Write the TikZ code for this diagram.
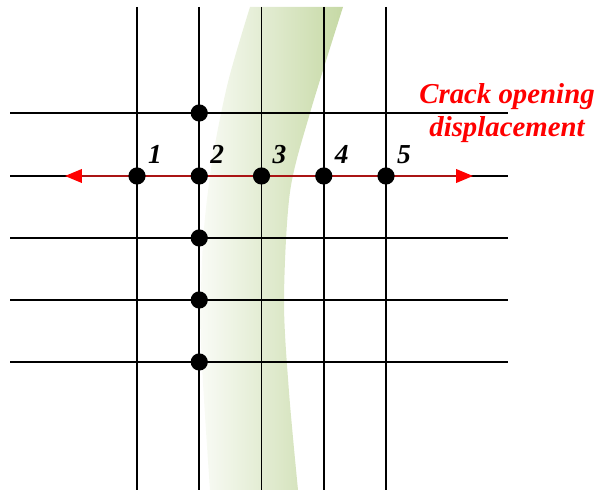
\documentclass[tikz,border=0pt]{standalone}
\usepackage{fontspec}
\setmainfont{Liberation Serif}
\usetikzlibrary{arrows.meta,positioning}
\definecolor{crackgreen}{RGB}{198,217,165}
\definecolor{coddark}{RGB}{170,20,20}
\definecolor{codred}{RGB}{255,0,0}
\tikzset{
  gridline/.style={line width=1.2pt, black},
  gaugept/.style={circle, fill=black, inner sep=0pt, minimum size=0.43cm},
  ptlabel/.style={font=\fontsize{19.5}{19.5}\selectfont\bfseries\itshape, anchor=base west, inner sep=0pt},
  codlabel/.style={font=\fontsize{20.5}{23}\selectfont\bfseries\itshape, text=codred, align=center, inner sep=0pt},
  codarrow/.style={{Triangle[length=4.2mm,width=3.4mm,codred]}-{Triangle[length=4.2mm,width=3.4mm,codred]}, line width=1.1pt, coddark},
}

\begin{document}
\begin{tikzpicture}[x=0.025cm, y=0.025cm]
\useasboundingbox (0,0) rectangle (600,492);

% crack band
\shade[left color=crackgreen!10, right color=crackgreen]
  plot[smooth] coordinates {(250,485) (228,410) (212,330) (203,250) (201,150) (210,2)}
  -- plot[smooth] coordinates {(298,2) (289,100) (284,192) (290,300) (310,379) (343,485)}
  -- cycle;

% grid
\foreach \y in {379,316,254,192,130}
  \draw[gridline] (10,\y) -- (508,\y);
\foreach \x in {137,199.25,261.5,323.75,386}
  \draw[gridline] (\x,485) -- (\x,2);

% crack opening displacement
\coordinate (codL) at (65,316);
\coordinate (codR) at (473,316);
\draw[codarrow] (codL) -- (codR);

% gauge points
\foreach \x [count=\i] in {137,199.25,261.5,323.75,386} {
  \node[gaugept] (p\i) at (\x,316) {};
  \node[ptlabel] (l\i) at ([xshift=0.27cm, yshift=0.3cm]p\i) {\i};
}
\foreach \y [count=\i] in {379,254,192,130}
  \node[gaugept] (q\i) at (199.25,\y) {};

\node[codlabel] (cod) at (507,379) {Crack opening\\displacement};
\end{tikzpicture}
\end{document}
